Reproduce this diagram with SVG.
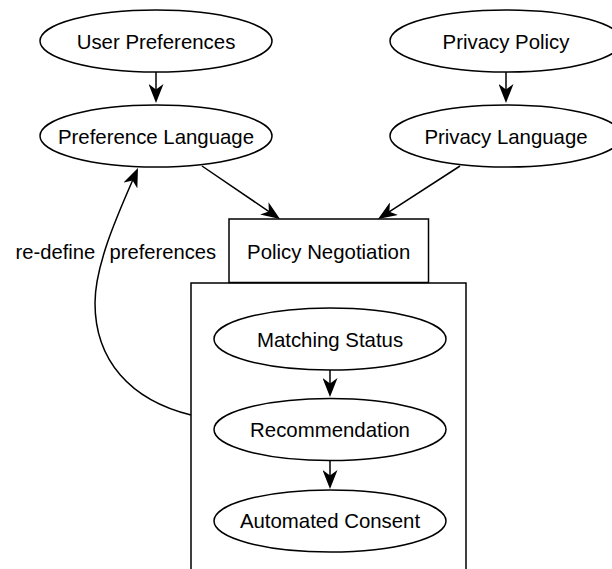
<svg xmlns="http://www.w3.org/2000/svg" width="612" height="569" viewBox="0 0 612 569">
<style>
.n{fill:#fff;stroke:#000;stroke-width:1.5}
.t{font-family:"Liberation Sans",Arial,Helvetica,sans-serif;font-size:20.4px;fill:#000;text-anchor:middle}
.l{font-family:"Liberation Sans",Arial,Helvetica,sans-serif;font-size:20.2px;fill:#000}
.e{fill:none;stroke:#000;stroke-width:1.5;marker-end:url(#ah)}
</style>
<defs>
<marker id="ah" markerUnits="userSpaceOnUse" viewBox="0 0 19 15" markerWidth="19" markerHeight="15" refX="15" refY="7.5" orient="auto">
<path d="M0,0 L19,7.5 L0,15 L5.5,7.5 Z" fill="#000"/>
</marker>
</defs>
<rect width="612" height="569" fill="#fff"/>
<g id="container">
<rect class="n" x="191" y="283" width="275" height="300"/>
</g>
<g id="user-preferences">
<ellipse class="n" cx="156" cy="41" rx="116" ry="31"/>
<text class="t" x="156" y="48.5">User Preferences</text>
</g>
<g id="preference-language">
<ellipse class="n" cx="156" cy="136" rx="116" ry="31"/>
<text class="t" x="156" y="143.5">Preference Language</text>
</g>
<g id="privacy-policy">
<ellipse class="n" cx="506" cy="41" rx="116" ry="31"/>
<text class="t" x="506" y="48.5">Privacy Policy</text>
</g>
<g id="privacy-language">
<ellipse class="n" cx="506" cy="136" rx="116" ry="31"/>
<text class="t" x="506" y="143.5">Privacy Language</text>
</g>
<g id="policy-negotiation">
<rect class="n" x="229" y="219" width="199.5" height="63.5"/>
<text class="t" x="328.7" y="258.7">Policy Negotiation</text>
</g>
<g id="matching-status">
<ellipse class="n" cx="330" cy="339" rx="116" ry="31"/>
<text class="t" x="330" y="346.5">Matching Status</text>
</g>
<g id="recommendation">
<ellipse class="n" cx="330" cy="429.5" rx="116" ry="31"/>
<text class="t" x="330" y="437.2">Recommendation</text>
</g>
<g id="automated-consent">
<ellipse class="n" cx="330" cy="521" rx="116" ry="31"/>
<text class="t" x="330" y="528.4">Automated Consent</text>
</g>
<g id="connectors">
<path class="e" d="M156,72 L156,99"/>
<path class="e" d="M506,72 L506,99"/>
<path class="e" d="M202,166 L276.7,216.8"/>
<path class="e" d="M460,166 L381.4,216.8"/>
<path class="e" d="M330,370 L330,393"/>
<path class="e" d="M330,460.5 L330,485"/>
<path class="e" d="M191,415 C130,400 95,360 95,303 C95,263 120.4,208.7 136.4,171.7"/>
<text class="l" y="259"><tspan x="15.5">re-define</tspan><tspan x="109.5">preferences</tspan></text>
</g>
</svg>
